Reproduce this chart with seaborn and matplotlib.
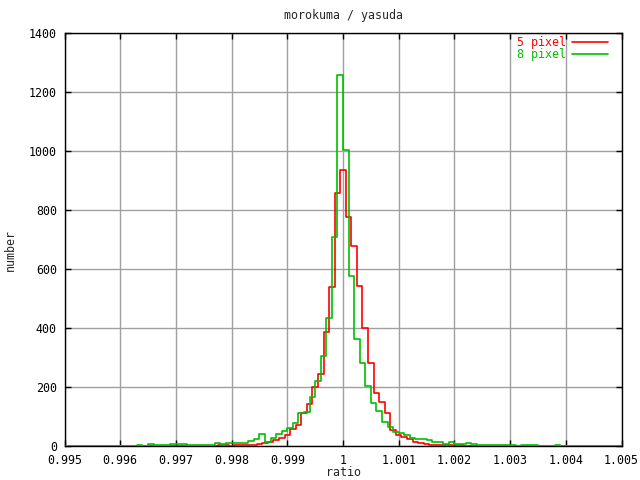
import numpy as np
import pandas as pd
import seaborn as sns
import matplotlib.pyplot as plt
from matplotlib.lines import Line2D

# bin centres: 5 pixel on multiples of 1e-4, 8 pixel shifted by half a bin
RED_CENTERS = np.round(np.arange(0.9950, 1.00501, 0.0001), 5)
GREEN_CENTERS = np.round(np.arange(0.99505, 1.00500, 0.0001), 5)

red_left = [0, 0, 0, 0, 0, 0, 0, 0, 0, 0,
            2, 0, 0, 2, 2, 0, 1, 1, 1, 1,
            2, 2, 2, 0, 2, 1, 0, 2, 3, 4,
            2, 4, 3, 5, 5, 9, 10, 15, 22, 28,
            40, 58, 72, 114, 142, 200, 245, 386, 540, 860,
            935]
red_right = [776, 680, 545, 400, 281, 180, 150, 112, 55, 40,
             30, 24, 16, 12, 9, 6, 4, 3, 6, 3,
             5, 2, 2, 1, 1, 1, 1, 1, 1, 1,
             0, 2, 2, 2, 0, 0, 0, 0, 2, 0,
             0, 0, 0, 0, 0, 0, 0, 0, 0, 0]

green_left = [0, 0, 0, 0, 0, 0, 0, 0, 0, 2,
              2, 0, 0, 4, 0, 8, 3, 3, 3, 9,
              9, 9, 3, 3, 3, 3, 3, 11, 8, 12,
              10, 10, 10, 17, 26, 42, 16, 29, 42, 52,
              61, 78, 112, 116, 166, 222, 307, 434, 708, 1260]
green_right = [1005, 578, 365, 284, 204, 146, 118, 84, 67, 48,
               44, 38, 27, 24, 24, 22, 16, 16, 7, 16,
               8, 8, 11, 7, 4, 4, 4, 4, 4, 4,
               4, 1, 3, 3, 3, 0, 0, 0, 3, 0,
               0, 0, 0, 0, 0, 0, 0, 0, 0, 0]

X_TICKS = [0.995, 0.996, 0.997, 0.998, 0.999, 1.0, 1.001, 1.002, 1.003, 1.004, 1.005]
X_TICKLABELS = ["0.995", "0.996", "0.997", "0.998", "0.999", "1",
                "1.001", "1.002", "1.003", "1.004", "1.005"]
Y_TICKS = [0, 200, 400, 600, 800, 1000, 1200, 1400]

red = pd.DataFrame({"ratio": RED_CENTERS, "number": red_left + red_right})
green = pd.DataFrame({"ratio": GREEN_CENTERS, "number": green_left + green_right})

sns.set_style("white")
plt.rcParams['font.family'] = ['DejaVu Sans Mono']
FS = 8.4
RED_C = "#ff0000"
GREEN_C = "#00c000"

fig = plt.figure(figsize=(6.4, 4.8), dpi=100)
ax = fig.add_axes([64.5 / 640, 1 - 446.3 / 480, 557 / 640, 413 / 480])

sns.lineplot(data=red, x="ratio", y="number", drawstyle="steps-mid",
             color=RED_C, linewidth=1.2, ax=ax, zorder=3)
sns.lineplot(data=green, x="ratio", y="number", drawstyle="steps-mid",
             color=GREEN_C, linewidth=1.2, ax=ax, zorder=4)

ax.set_xlim(0.995, 1.005)
ax.set_ylim(0, 1400)
ax.set_xticks(X_TICKS)
ax.set_xticklabels(X_TICKLABELS)
ax.set_yticks(Y_TICKS)
ax.grid(True, color="#a0a0a0", linewidth=1.0, zorder=1)
ax.set_axisbelow(True)
for s in ax.spines.values():
    s.set_color("black")
    s.set_linewidth(1.0)
    s.set_visible(True)
ax.tick_params(direction="in", length=4, width=1, colors="black",
               top=True, right=True, bottom=True, left=True, labelsize=FS)
ax.tick_params(axis="y", pad=5.5)
ax.tick_params(axis="x", pad=5.5)
ax.set_xlabel("")
ax.set_ylabel("")

fig.text(343 / 640, 1 - 15 / 480, "morokuma / yasuda", ha="center", va="center", fontsize=FS)
fig.text(343 / 640, 1 - 473 / 480, "ratio", ha="center", va="center", fontsize=FS)
fig.text(10 / 640, 1 - 250 / 480, "number", ha="center", va="center", rotation=90, fontsize=FS)

handles = [Line2D([], [], color=RED_C, lw=1.2), Line2D([], [], color=GREEN_C, lw=1.2)]
leg = ax.legend(handles, ["5 pixel", "8 pixel"], loc="upper right",
                bbox_to_anchor=((608 - 64.5) / 557, (446.3 - 36) / 413),
                frameon=False, markerfirst=False, handlelength=3.1,
                handletextpad=0.5, labelspacing=-0.05, borderpad=0,
                borderaxespad=0, fontsize=FS, labelcolor="linecolor")

fig.savefig("out.png", dpi=100)
